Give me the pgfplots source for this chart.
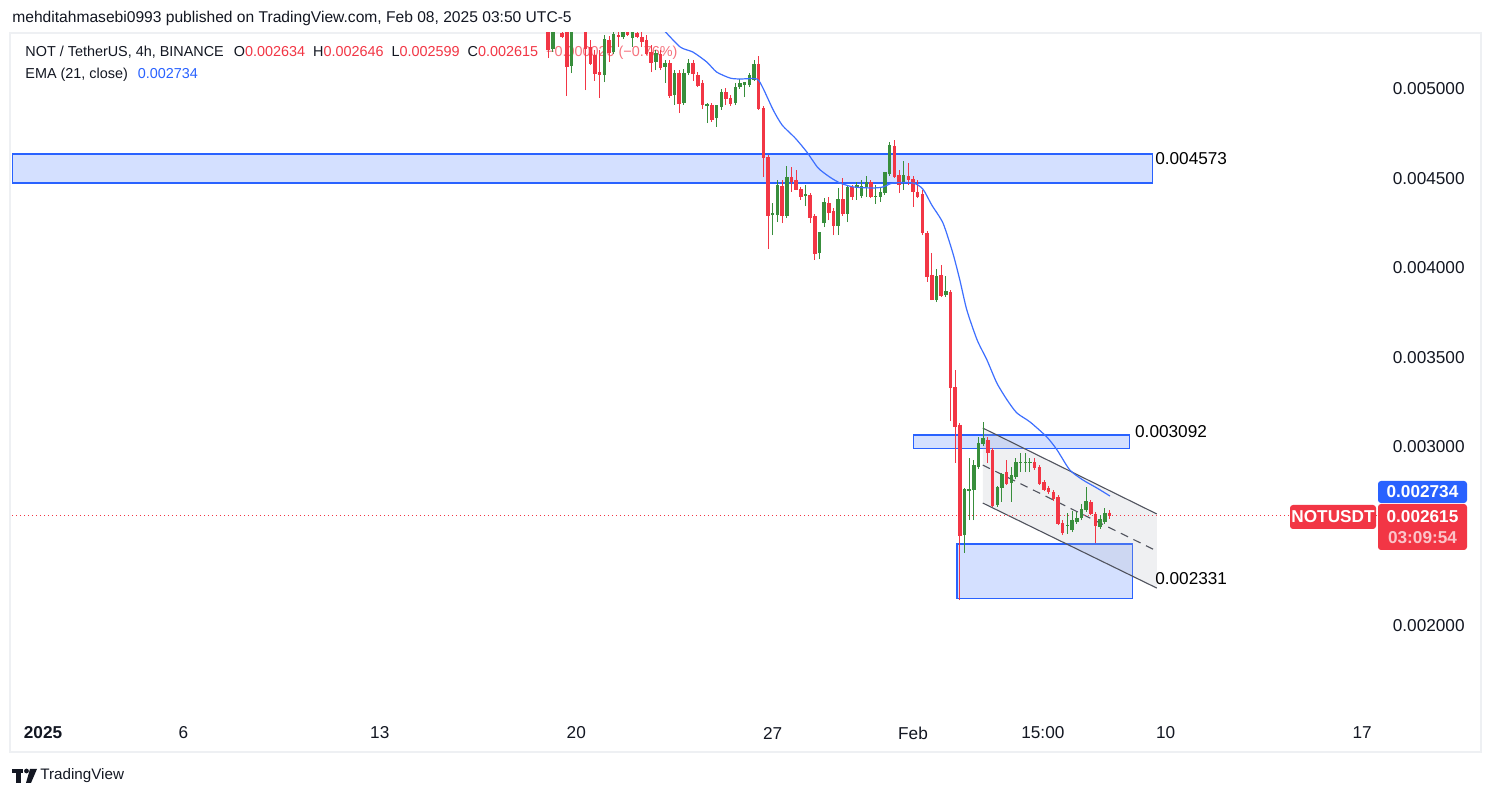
\documentclass[border=0pt]{standalone}
\usepackage{fontspec}
\setmainfont{Liberation Sans}
\usepackage{pgfplots}
\usepackage{pgfplotstable}
\pgfplotsset{compat=1.18}
\definecolor{cRed}{HTML}{F23645}
\definecolor{cGreen}{HTML}{388E3C}
\definecolor{tvBlue}{HTML}{2962FF}
\definecolor{boxFill}{HTML}{D4E0FF}
\definecolor{emaBlue}{HTML}{3D6FFF}
\definecolor{chanLine}{HTML}{50535E}
\definecolor{chanFill}{HTML}{B2B5BE}
\definecolor{txt}{HTML}{131722}
\definecolor{frameGray}{HTML}{EEF0F3}
\definecolor{timerPink}{HTML}{FBC4C9}
\newcommand\fs[1]{\fontsize{#1}{#1}\selectfont}

% candles: x in 4h steps from 1 Jan 2025 00:00 ; o h l c prices
\pgfplotstableread{
x o h l c
108 0.005341 0.005385 0.005173 0.005223
111 0.005313 0.005341 0.005285 0.005296
112 0.005330 0.005358 0.004961 0.005128
115 0.005358 0.005385 0.005318 0.005330
116 0.005330 0.005358 0.004994 0.005229
117 0.005235 0.005274 0.005134 0.005145
118 0.005190 0.005218 0.005045 0.005089
119 0.005095 0.005218 0.004950 0.005084
121 0.005274 0.005296 0.005151 0.005207
123 0.005302 0.005330 0.005235 0.005291
125 0.005318 0.005341 0.005296 0.005302
127 0.005313 0.005330 0.005285 0.005291
128 0.005291 0.005318 0.005235 0.005268
129 0.005274 0.005302 0.005190 0.005201
130 0.005207 0.005246 0.005095 0.005151
132 0.005196 0.005218 0.005106 0.005123
134 0.005145 0.005162 0.004950 0.004966
136 0.005089 0.005106 0.004866 0.004922
139 0.005145 0.005162 0.005045 0.005089
140 0.005078 0.005095 0.005011 0.005022
141 0.005034 0.005050 0.004888 0.004911
143 0.004911 0.004922 0.004816 0.004832
146 0.004983 0.005006 0.004911 0.004950
147 0.004950 0.004966 0.004905 0.004922
153 0.005140 0.005184 0.004883 0.004894
154 0.004894 0.004905 0.004508 0.004620
155 0.004620 0.004631 0.004106 0.004296
158 0.004458 0.004492 0.004251 0.004296
160 0.004508 0.004564 0.004425 0.004486
161 0.004492 0.004547 0.004436 0.004441
162 0.004441 0.004453 0.004380 0.004397
164 0.004408 0.004419 0.004251 0.004285
165 0.004291 0.004302 0.004045 0.004084
168 0.004363 0.004397 0.004268 0.004313
169 0.004318 0.004335 0.004184 0.004235
171 0.004385 0.004503 0.004291 0.004302
173 0.004453 0.004464 0.004380 0.004402
177 0.004480 0.004492 0.004391 0.004397
182 0.004682 0.004715 0.004503 0.004514
183 0.004520 0.004547 0.004419 0.004469
185 0.004514 0.004587 0.004464 0.004492
186 0.004497 0.004514 0.004341 0.004425
187 0.004425 0.004492 0.004391 0.004402
188 0.004413 0.004436 0.004184 0.004196
189 0.004196 0.004207 0.003922 0.003955
190 0.003961 0.004084 0.003821 0.003827
192 0.003961 0.004017 0.003838 0.003849
194 0.003866 0.003877 0.003145 0.003335
195 0.003335 0.003430 0.002911 0.003117
196 0.003123 0.003134 0.002145 0.002508
202 0.003039 0.003056 0.002911 0.002972
203 0.002983 0.002994 0.002665 0.002676
206 0.002860 0.002927 0.002788 0.002799
212 0.002916 0.002939 0.002872 0.002883
213 0.002888 0.002899 0.002788 0.002799
214 0.002804 0.002816 0.002754 0.002765
215 0.002771 0.002782 0.002737 0.002749
216 0.002749 0.002760 0.002698 0.002715
217 0.002721 0.002732 0.002564 0.002575
218 0.002575 0.002592 0.002508 0.002520
224 0.002693 0.002704 0.002620 0.002631
225 0.002626 0.002637 0.002464 0.002564
228 0.002634 0.002646 0.002599 0.002615
}\redC

\pgfplotstableread{
x o h l c
109 0.005223 0.005358 0.005207 0.005330
110 0.005330 0.005397 0.005318 0.005374
113 0.005128 0.005341 0.005089 0.005330
114 0.005341 0.005374 0.005318 0.005358
120 0.005078 0.005302 0.005039 0.005274
122 0.005207 0.005330 0.005196 0.005307
124 0.005291 0.005330 0.005279 0.005313
126 0.005285 0.005330 0.005235 0.005313
131 0.005151 0.005218 0.005106 0.005201
133 0.005123 0.005162 0.005034 0.005145
135 0.004966 0.005106 0.004911 0.005089
137 0.004922 0.005112 0.004911 0.005089
138 0.005089 0.005168 0.005078 0.005145
142 0.004905 0.004922 0.004810 0.004911
144 0.004838 0.004883 0.004788 0.004905
145 0.004899 0.005000 0.004883 0.004978
148 0.004922 0.005034 0.004911 0.005011
149 0.005011 0.005056 0.005000 0.005028
150 0.005022 0.005039 0.004955 0.005034
151 0.005022 0.005089 0.005011 0.005073
152 0.005050 0.005162 0.005045 0.005134
156 0.004296 0.004363 0.004184 0.004302
157 0.004296 0.004492 0.004257 0.004458
159 0.004291 0.004570 0.004279 0.004503
163 0.004402 0.004464 0.004346 0.004408
166 0.004084 0.004201 0.004050 0.004196
167 0.004251 0.004391 0.004229 0.004363
170 0.004235 0.004447 0.004184 0.004385
172 0.004302 0.004458 0.004257 0.004447
174 0.004453 0.004480 0.004380 0.004458
175 0.004402 0.004492 0.004391 0.004453
176 0.004453 0.004514 0.004397 0.004480
178 0.004397 0.004464 0.004358 0.004402
179 0.004397 0.004453 0.004369 0.004419
180 0.004419 0.004536 0.004408 0.004531
181 0.004525 0.004704 0.004514 0.004682
184 0.004475 0.004598 0.004436 0.004514
191 0.003821 0.003994 0.003810 0.003955
193 0.003849 0.003955 0.003838 0.003866
197 0.002508 0.002771 0.002408 0.002760
198 0.002754 0.002939 0.002592 0.002760
199 0.002760 0.002927 0.002592 0.002894
200 0.002888 0.003056 0.002877 0.003022
201 0.003017 0.003140 0.003006 0.003045
204 0.002676 0.002782 0.002665 0.002771
205 0.002771 0.002855 0.002693 0.002844
207 0.002799 0.002888 0.002693 0.002838
208 0.002832 0.002939 0.002821 0.002916
209 0.002911 0.002967 0.002860 0.002916
210 0.002911 0.002967 0.002860 0.002916
211 0.002911 0.002939 0.002860 0.002916
219 0.002559 0.002631 0.002514 0.002564
220 0.002536 0.002642 0.002525 0.002587
221 0.002581 0.002637 0.002570 0.002603
222 0.002603 0.002682 0.002592 0.002648
223 0.002648 0.002777 0.002637 0.002693
226 0.002553 0.002620 0.002542 0.002592
227 0.002581 0.002659 0.002570 0.002631
}\greenC

\begin{document}
\begin{tikzpicture}
\path[use as bounding box, fill=white] (0,0) rectangle (747.5pt,399pt);
\begin{scope}[x=0.5pt,y=-0.5pt,yshift=399pt]
  \draw[frameGray, line width=1pt] (10,33) rectangle (1481,752);
  \node[anchor=west, inner sep=0pt, font=\fs{7.8}, text=txt] at (12,18) {mehditahmasebi0993 published on TradingView.com, Feb 08, 2025 03:50 UTC-5};
  \node[anchor=west, inner sep=0pt, font=\fs{7.2}, text=txt] at (25,53) {NOT / TetherUS, 4h, BINANCE\hspace{5pt}O\textcolor{cRed}{0.002634}\hspace{4pt}H\textcolor{cRed}{0.002646}\hspace{4pt}L\textcolor{cRed}{0.002599}\hspace{4pt}C\textcolor{cRed}{0.002615}\hspace{4pt}\textcolor{cRed!70}{−0.000020 (−0.76\%)}};
  \node[anchor=west, inner sep=0pt, font=\fs{7.2}, text=txt] at (25,75) {EMA (21, close)\hspace{5pt}\textcolor{tvBlue}{0.002734}};
  % logo
  \fill[txt] (12,769) rectangle (23,773);
  \fill[txt] (16,769) rectangle (21,783);
  \fill[txt] (26.5,771) circle (2.4);
  \fill[txt] (30,769) -- (37,769) -- (31,783) -- (26,783) -- cycle;
  \node[anchor=west, inner sep=0pt, font=\fs{7.6}, text=txt] at (40,776) {TradingView};
\end{scope}

\begin{axis}[
  at={(6pt,40pt)}, anchor=south west,
  width=683pt, height=342.5pt, scale only axis,
  xmin=-6.63, xmax=285.4, ymin=0.001486, ymax=0.005313,
  axis line style={draw=none}, tick style={draw=none},
  scaled y ticks=false,
  xtick={0,30,72,114,156,186,213.75,240,282},
  xticklabels={\textbf{2025},6,13,20,27,Feb,15:00,10,17},
  xticklabel style={anchor=center, yshift=-7.5pt, font=\fs{8.6}, text=txt},
  ytick={0.002,0.003,0.0035,0.004,0.0045,0.005},
  yticklabels={0.002000,0.003000,0.003500,0.004000,0.004500,0.005000},
  yticklabel pos=right,
  yticklabel style={anchor=east, inner sep=0pt, xshift=43.5pt, font=\fs{8.6}, text=txt},
]
% zones
\draw[draw=tvBlue, fill=boxFill, line width=0.55pt] (axis cs:-6.63,0.004637) rectangle (axis cs:237.1,0.004475);
\draw[draw=tvBlue, fill=boxFill, line width=0.55pt] (axis cs:186.0,0.003067) rectangle (axis cs:232.2,0.002994);
\draw[draw=tvBlue, fill=boxFill, line width=0.55pt] (axis cs:195.4,0.002458) rectangle (axis cs:233.0,0.002156);
% channel
\fill[chanFill, fill opacity=0.2] (axis cs:200.9,0.003106) -- (axis cs:238.1,0.002626) -- (axis cs:238.1,0.002212) -- (axis cs:200.9,0.002687) -- cycle;
\draw[chanLine, line width=0.55pt] (axis cs:200.9,0.003106) -- (axis cs:238.1,0.002626);
\draw[chanLine, line width=0.55pt] (axis cs:200.9,0.002687) -- (axis cs:238.1,0.002212);
\draw[chanLine, line width=0.55pt, dash pattern=on 4pt off 3pt] (axis cs:200.9,0.002899) -- (axis cs:238.1,0.002419);
% current price line
\addplot[cRed, line width=0.5pt, dash pattern=on 0.5pt off 1.5pt, forget plot] coordinates {(-6.63,0.002615) (285.4,0.002615)};
% wicks (low to high)
\addplot[cRed, mark=none, forget plot, -, line width=0.5pt,
  quiver={u value=0, v={\thisrow{h}-\thisrow{l}}, every arrow/.append style={-, line width=0.5pt, line cap=butt}}]
  table[x=x, y=l] {\redC};
\addplot[cGreen, mark=none, forget plot, -, line width=0.5pt,
  quiver={u value=0, v={\thisrow{h}-\thisrow{l}}, every arrow/.append style={-, line width=0.5pt, line cap=butt}}]
  table[x=x, y=l] {\greenC};
% bodies (open to close)
\addplot[cRed, mark=none, forget plot, -, line width=1.75pt,
  quiver={u value=0, v={\thisrow{c}-\thisrow{o}-0.000003}, every arrow/.append style={-, line width=1.75pt, line cap=butt}}]
  table[x=x, y=o] {\redC};
\addplot[cGreen, mark=none, forget plot, -, line width=1.75pt,
  quiver={u value=0, v={\thisrow{c}-\thisrow{o}+0.000003}, every arrow/.append style={-, line width=1.75pt, line cap=butt}}]
  table[x=x, y=o] {\greenC};
% EMA 21
\addplot[emaBlue, line width=0.6pt, smooth, tension=0.4, mark=none] coordinates {
(132.3,0.005341) (136.2,0.005235) (138.9,0.005207) (141.9,0.005151) (144.0,0.005095) (146.9,0.005061) (149.0,0.005056) (152.6,0.005056) (153.9,0.005006) (156.1,0.004883) (158.0,0.004799) (160.8,0.004726) (163.3,0.004648) (165.7,0.004559) (168.2,0.004508) (170.4,0.004475) (173.2,0.004453) (177.4,0.004447) (179.6,0.004453) (181.7,0.004475) (186.0,0.004475) (188.1,0.004441) (190.0,0.004352) (192.4,0.004251) (194.5,0.004084) (196.0,0.003933) (197.5,0.003765) (199.7,0.003598) (201.8,0.003486) (203.9,0.003358) (206.1,0.003263) (208.2,0.003190) (211.0,0.003140) (214.6,0.003056) (216.8,0.002983) (219.5,0.002872) (222.3,0.002816) (225.3,0.002771) (228.1,0.002726)};
% zone labels
\node[anchor=west, inner sep=0pt, font=\fs{8.6}, text=black] at (axis cs:237.7,0.004609) {0.004573};
\node[anchor=west, inner sep=0pt, font=\fs{8.6}, text=black] at (axis cs:233.4,0.003084) {0.003092};
\node[anchor=west, inner sep=0pt, font=\fs{8.6}, text=black] at (axis cs:237.7,0.002263) {0.002331};
\end{axis}

\begin{scope}[x=0.5pt,y=-0.5pt,yshift=399pt]
  \fill[tvBlue, rounded corners=1.5pt] (1378,481) rectangle (1467,503);
  \node[text=white, font=\bfseries\fs{8.6}] at (1422.5,492) {0.002734};
  \fill[cRed, rounded corners=1.5pt] (1378,504) rectangle (1467,550);
  \node[text=white, font=\bfseries\fs{8.6}] at (1422.5,517) {0.002615};
  \node[text=timerPink, font=\bfseries\fs{8.6}] at (1422.5,538) {03:09:54};
  \fill[cRed, rounded corners=1.5pt] (1290,505) rectangle (1376,529);
  \node[text=white, font=\bfseries\fs{8.6}] at (1333,517) {NOTUSDT};
\end{scope}
\end{tikzpicture}
\end{document}
